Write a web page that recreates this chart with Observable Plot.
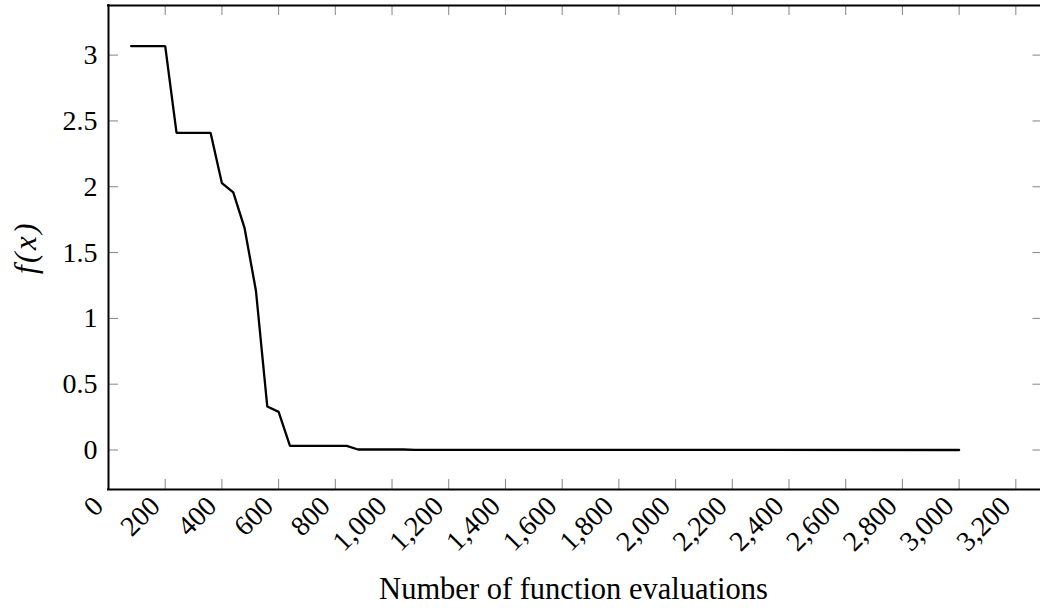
<!DOCTYPE html>
<html>
<head>
<meta charset="utf-8">
<script src="https://cdn.jsdelivr.net/npm/d3@7"></script>
<script src="https://cdn.jsdelivr.net/npm/@observablehq/plot@0.6"></script>
<style>
  html, body { margin: 0; padding: 0; background: #fff; overflow: hidden; width: 1040px; height: 608px; }
  #chart svg { display: block; max-width: none !important; overflow: hidden; }
</style>
</head>
<body>
<div id="chart"></div>
<script>
// Data: number of function evaluations vs best f(x)
const evaluations = [80, 200, 240, 360, 400, 440, 480, 520, 560, 600, 640, 840, 880, 1040, 1080, 3000];
const fValues     = [3.068, 3.068, 2.41, 2.41, 2.027, 1.957, 1.685, 1.21, 0.33, 0.29, 0.032, 0.032, 0.004, 0.004, 0.0012, 0.0002];

const xTickValues = [0, 200, 400, 600, 800, 1000, 1200, 1400, 1600, 1800, 2000, 2200, 2400, 2600, 2800, 3000, 3200];
const yTickValues = [0, 0.5, 1, 1.5, 2, 2.5, 3];
const xDomain = [0, 3287];   // the right border of the axis box falls just outside the picture
const yDomain = [-0.3, 3.377];
const xLabel = "Number of function evaluations";
const yLabel = "f(x)";

const series = evaluations.map((x, i) => ({x, y: fValues[i]}));
const fmtX = d3.format(",");
const fmtY = d => String(d);

const W = 1040, H = 608;
const mL = 108, mR = 0, mT = 5, mB = 119;
const innerW = W - mL - mR, innerH = H - mT - mB;
const tickLen = 10;
const font = "Liberation Serif";

const chart = Plot.plot({
  width: W,
  height: H,
  marginLeft: mL,
  marginRight: mR,
  marginTop: mT,
  marginBottom: mB,
  style: {fontFamily: font, fontSize: "27px", background: "white", color: "black", maxWidth: "none"},
  x: {domain: xDomain, axis: null},
  y: {domain: yDomain, axis: null},
  marks: [
    // ticks (inward, on all four sides)
    Plot.ruleX(xTickValues, {x: d => d, insetTop: innerH - tickLen, stroke: "#666", strokeWidth: 0.8}),
    Plot.ruleX(xTickValues, {x: d => d, insetBottom: innerH - tickLen, stroke: "#666", strokeWidth: 0.8}),
    Plot.ruleY(yTickValues, {y: d => d, insetRight: innerW - tickLen, stroke: "#666", strokeWidth: 0.8}),
    Plot.ruleY(yTickValues, {y: d => d, insetLeft: innerW - 7.5, stroke: "#666", strokeWidth: 0.8}),
    // data line
    Plot.line(series, {x: "x", y: "y", stroke: "black", strokeWidth: 2.3, strokeLinejoin: "miter"}),
    // axis box: left, top and bottom sides (right side lies beyond the picture)
    Plot.ruleX([xDomain[0]], {x: d => d, stroke: "black", strokeWidth: 2, insetTop: -1, insetBottom: -1}),
    Plot.ruleY([yDomain[0], yDomain[1]], {y: d => d, stroke: "black", strokeWidth: 2, insetLeft: -1}),
    // y tick labels
    Plot.text(yTickValues, {y: d => d, text: fmtY, frameAnchor: "left", textAnchor: "end", lineAnchor: "middle", dx: -11, fontSize: 28, fill: "black"}),
    // x tick labels (rotated)
    Plot.text(xTickValues, {x: d => d, text: fmtX, frameAnchor: "bottom", textAnchor: "end", lineAnchor: "middle", rotate: -45, dx: -10, dy: 12, fontSize: 28, fill: "black"}),
    // axis labels
    Plot.text([xLabel], {text: d => d, frameAnchor: "bottom", textAnchor: "middle", lineAnchor: "middle", dx: -1, dy: 100, fontSize: 30.5, fill: "black"}),
    Plot.text([yLabel], {text: d => d, frameAnchor: "left", textAnchor: "middle", lineAnchor: "middle", rotate: -90, dx: -82, fontSize: 31, fontStyle: "italic", fill: "black"})
  ]
});

document.getElementById("chart").appendChild(chart);
// widen the math-style label a little, as in the reference
d3.select(chart).selectAll("text").filter(function() { return this.textContent === yLabel; })
  .attr("letter-spacing", "2.5px");
</script>
</body>
</html>
